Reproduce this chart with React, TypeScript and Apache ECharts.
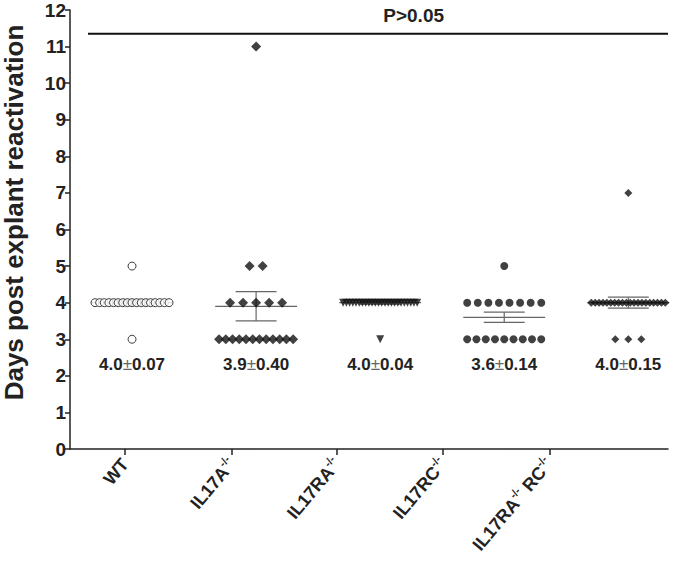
import React, { useEffect, useRef } from "react";
import * as echarts from "echarts";

// ---- data ----
const groupLabels = ["WT", "IL17A", "IL17RA", "IL17RC", "IL17RA RC"];
const wtValues = [5, 4, 4, 4, 4, 4, 4, 4, 4, 4, 4, 4, 4, 4, 4, 4, 4, 4, 3];
const il17aValues = [11, 5, 5, 4, 4, 4, 4, 4, 3, 3, 3, 3, 3, 3, 3, 3, 3, 3, 3, 3];
const il17raValues = [4, 4, 4, 4, 4, 4, 4, 4, 4, 4, 4, 4, 4, 4, 4, 4, 4, 4, 4, 4, 4, 4, 4, 4, 3];
const il17rcValues = [5, 4, 4, 4, 4, 4, 4, 4, 4, 3, 3, 3, 3, 3, 3, 3, 3, 3];
const il17raRcValues = [7, 4, 4, 4, 4, 4, 4, 4, 4, 4, 4, 4, 4, 4, 4, 4, 4, 4, 4, 4, 4, 3, 3, 3];
const groupMeans = [4.0, 3.9, 4.0, 3.6, 4.0];
const groupSems = [0.07, 0.40, 0.04, 0.14, 0.15];
const meanLabels = ["4.0", "3.9", "4.0", "3.6", "4.0"];
const semLabels = ["0.07", "0.40", "0.04", "0.14", "0.15"];
const yTicks = [0, 1, 2, 3, 4, 5, 6, 7, 8, 9, 10, 11, 12];
const pText = "P>0.05";
const pLevel = 11.35;

// layout helpers (positions of the category tick marks on the shared x scale)
const tickPositions = [0.944, 1.806, 2.653, 3.508, 4.363];
const X_MIN = 0.5;
const X_MAX = 5.32;
const PX_PER_UNIT = 124;

function spread(values: number[], center: number) {
  const counts: Record<string, number> = {};
  values.forEach((v) => (counts[v] = (counts[v] || 0) + 1));
  const seen: Record<string, number> = {};
  return values.map((v) => {
    const n = counts[v];
    const i = seen[v] || 0;
    seen[v] = i + 1;
    const spacingPx = n > 1 ? Math.min(13, 74 / (n - 1)) : 0;
    const off = ((i - (n - 1) / 2) * spacingPx) / PX_PER_UNIT;
    return [center + off, v];
  });
}

const FONT = "Liberation Sans, Arial, sans-serif";

export default function App() {
  const ref = useRef<HTMLDivElement>(null);
  useEffect(() => {
    if (!ref.current) return;
    const chart = echarts.init(ref.current, undefined, { renderer: "svg" });
    const allGroups = [wtValues, il17aValues, il17raValues, il17rcValues, il17raRcValues];
    const symbols = [
      { symbol: "circle", size: 8, rotate: 0, style: { color: "#fff", borderColor: "#111", borderWidth: 1 } },
      { symbol: "diamond", size: 10, rotate: 0, style: { color: "#111" } },
      { symbol: "triangle", size: 8, rotate: 180, style: { color: "#111" } },
      { symbol: "circle", size: 8, rotate: 0, style: { color: "#111" } },
      { symbol: "diamond", size: 8, rotate: 0, style: { color: "#111" } },
    ];

    const pointSeries = allGroups.map((vals, gi) => ({
      type: "scatter",
      name: groupLabels[gi],
      data: spread(vals, gi + 1),
      symbol: symbols[gi].symbol,
      symbolSize: symbols[gi].size,
      symbolRotate: symbols[gi].rotate,
      itemStyle: symbols[gi].style,
      z: 3,
    }));

    const errSeries = {
      type: "custom",
      z: 2,
      data: groupMeans.map((m, i) => [i + 1, m, groupSems[i]]),
      renderItem: (params: any, api: any) => {
        const x = api.value(0);
        const m = api.value(1);
        const s = api.value(2);
        const halfMean = 0.33;
        const halfCap = 0.165;
        const a = api.coord([x - halfMean, m]);
        const b = api.coord([x + halfMean, m]);
        const top = api.coord([x, m + s]);
        const bot = api.coord([x, m - s]);
        const ca1 = api.coord([x - halfCap, m + s]);
        const ca2 = api.coord([x + halfCap, m + s]);
        const cb1 = api.coord([x - halfCap, m - s]);
        const cb2 = api.coord([x + halfCap, m - s]);
        const st = { stroke: "#666", lineWidth: 1.2 };
        return {
          type: "group",
          children: [
            { type: "line", shape: { x1: a[0], y1: a[1], x2: b[0], y2: b[1] }, style: st },
            { type: "line", shape: { x1: top[0], y1: top[1], x2: bot[0], y2: bot[1] }, style: st },
            { type: "line", shape: { x1: ca1[0], y1: ca1[1], x2: ca2[0], y2: ca2[1] }, style: st },
            { type: "line", shape: { x1: cb1[0], y1: cb1[1], x2: cb2[0], y2: cb2[1] }, style: st },
          ],
        };
      },
    };

    const textSeries = {
      type: "custom",
      z: 4,
      data: meanLabels.map((m, i) => [i + 1, 2.3, i]),
      renderItem: (params: any, api: any) => {
        const p = api.coord([api.value(0), api.value(1)]);
        const i = api.value(2);
        return {
          type: "text",
          x: p[0],
          y: p[1],
          style: {
            text: `{b|${meanLabels[i]}}{pm|±}{b|${semLabels[i]}}`,
            align: "center",
            verticalAlign: "middle",
            rich: {
              b: { fontFamily: FONT, fontWeight: "bold", fontSize: 17, fill: "#222" },
              pm: { fontFamily: FONT, fontWeight: "normal", fontSize: 17, fill: "#666" },
            },
          },
        };
      },
    };

    const pSeries = {
      type: "custom",
      z: 4,
      data: [[0.645, X_MAX, pLevel]],
      renderItem: (params: any, api: any) => {
        const a = api.coord([api.value(0), api.value(2)]);
        const b = api.coord([api.value(1), api.value(2)]);
        const t = api.coord([3.27, 11.86]);
        return {
          type: "group",
          children: [
            { type: "line", shape: { x1: a[0], y1: a[1], x2: b[0], y2: b[1] }, style: { stroke: "#111", lineWidth: 2 } },
            {
              type: "text",
              x: t[0],
              y: t[1],
              style: {
                text: pText,
                fontFamily: FONT,
                fontWeight: "bold",
                fontSize: 19,
                fill: "#222",
                align: "center",
                verticalAlign: "middle",
              },
            },
          ],
        };
      },
    };

    const labelText = (name: string) => {
      if (name === "WT") return "WT";
      if (name === "IL17RA RC") return "IL17RA{sup|-/-} RC{sup|-/-}";
      return `${name}{sup|-/-}`;
    };

    chart.setOption({
      animation: false,
      backgroundColor: "#fff",
      grid: { left: 70, right: 22, top: 10, bottom: 113, containLabel: false, outerBoundsMode: "none" },
      xAxis: {
        type: "value",
        min: X_MIN,
        max: X_MAX,
        splitLine: { show: false },
        axisLine: { show: true, onZero: false, lineStyle: { color: "#222", width: 1.5 } },
        axisTick: { show: true, length: 6, customValues: tickPositions, lineStyle: { color: "#222", width: 1.5 } },
        axisLabel: {
          show: true,
          customValues: tickPositions,
          rotate: 50,
          margin: 12,
          fontFamily: FONT,
          fontWeight: "bold",
          fontSize: 18,
          color: "#222",
          formatter: (v: number) => {
            let best = 0;
            tickPositions.forEach((t, i) => {
              if (Math.abs(t - v) < Math.abs(tickPositions[best] - v)) best = i;
            });
            return labelText(groupLabels[best]);
          },
          rich: {
            sup: { fontFamily: FONT, fontWeight: "bold", fontSize: 11, color: "#222", verticalAlign: "top", padding: [0, 0, 12, 0] },
          },
        },
      },
      yAxis: {
        type: "value",
        min: 0,
        max: 12,
        interval: 1,
        name: "Days post explant reactivation",
        nameLocation: "middle",
        nameGap: 43,
        nameTextStyle: { fontFamily: FONT, fontWeight: "bold", fontSize: 26, lineHeight: 26, color: "#222", padding: [0, 0, 0, 34] },
        splitLine: { show: false },
        axisLine: { show: true, lineStyle: { color: "#222", width: 1.5 } },
        axisTick: { show: true, length: 5, lineStyle: { color: "#222", width: 1.5 } },
        axisLabel: {
          margin: 4,
          fontFamily: FONT,
          fontWeight: "bold",
          fontSize: 19,
          lineHeight: 16,
          color: "#222",
          formatter: (v: number) => (yTicks.includes(v) ? String(v) : ""),
        },
      },
      series: [errSeries, ...pointSeries, textSeries, pSeries],
    });
    return () => chart.dispose();
  }, []);
  return (
    <div
      ref={ref}
      style={{ position: "fixed", left: 0, top: 0, width: 690, height: 562, background: "#fff" }}
    />
  );
}
